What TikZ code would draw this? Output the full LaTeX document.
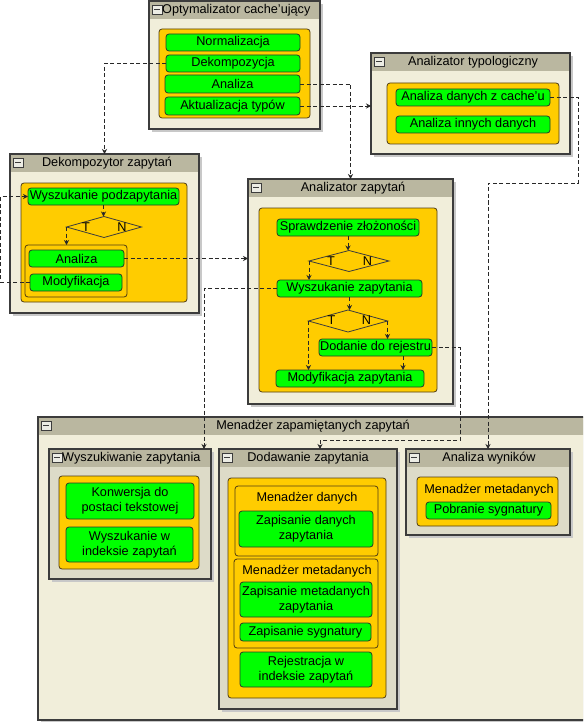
\documentclass[tikz,border=0pt]{standalone}
\usepackage{fontspec}
\setmainfont{Liberation Sans}
\usetikzlibrary{arrows.meta,shapes.geometric}
\definecolor{bodyc}{RGB}{241,238,218}
\definecolor{subc}{RGB}{221,219,200}
\definecolor{hdrc}{RGB}{186,183,160}
\definecolor{orc}{RGB}{255,204,0}
\definecolor{grc}{RGB}{0,255,0}
\definecolor{edgec}{RGB}{60,60,60}
\definecolor{orbd}{RGB}{80,60,20}
\definecolor{grbd}{RGB}{40,60,40}
\definecolor{shc}{RGB}{200,200,200}
\definecolor{iconc}{RGB}{236,236,228}
\definecolor{connc}{RGB}{40,40,40}
\newcommand\umlcont[9]{%
  \fill[shc] (#2+3,#3+3) rectangle ++(#4,#5);
  \fill[#6] (#2,#3) rectangle ++(#4,#5);
  \fill[hdrc] (#2,#3) rectangle ++(#4,18);
  \draw[edgec,line width=1.2pt] (#2,#3) rectangle ++(#4,#5);
  \node[inner sep=0,outer sep=0,minimum width=#4pt,minimum height=#5pt,anchor=north west] (#1) at (#2,#3) {};
  \draw[edgec,fill=iconc,line width=0.7pt] (#2+3,#3+4) rectangle ++(10,9);
  \draw[edgec,line width=1pt] (#2+5,#3+8.5) -- ++(6,0);
  \node[#9,inner sep=0] at (#8,#3+9.5) {#7};
}
\newcommand\gbox[6]{\node[grbox,minimum width=#4pt,minimum height=#5pt] (#1) at (#2,#3) {#6};}
\newcommand\obox[5]{\node[orbox,minimum width=#4pt,minimum height=#5pt] (#1) at (#2,#3) {};}
\begin{document}
\begin{tikzpicture}[x=1pt,y=-1pt,font=\fontsize{12.7}{15}\selectfont,
  orbox/.style={draw=orbd,fill=orc,rounded corners=3pt,line width=0.8pt,inner sep=0,outer sep=0,anchor=north west},
  grbox/.style={draw=grbd,fill=grc,rounded corners=3pt,line width=0.8pt,inner sep=0,outer sep=0,anchor=north west,align=center},
  dia/.style={draw=edgec,diamond,inner sep=0,outer sep=0,line width=0.8pt},
  conn/.style={draw=connc,line width=0.8pt,dash pattern=on 4pt off 2.5pt,-{Stealth[length=5pt,width=5pt]}},
  lbl/.style={inner sep=0}]
\clip (0,0) rectangle (583,722);
\fill[white] (0,0) rectangle (583,722);

% Optymalizator cache'ujacy
\umlcont{opt}{149}{1}{171}{128}{bodyc}{Optymalizator cache'ujący}{162}{anchor=west}
\obox{optin}{159}{29}{151}{89}
\gbox{norm}{166}{34}{134}{17}{Normalizacja}
\gbox{dekc}{166}{55}{134}{17}{Dekompozycja}
\gbox{anal}{165}{75}{135}{18}{Analiza}
\gbox{akt}{165}{97}{135}{18}{Aktualizacja typów}

% Analizator typologiczny
\umlcont{typ}{371}{53}{199}{101}{bodyc}{Analizator typologiczny}{473}{anchor=center}
\obox{typin}{387}{83}{172}{61}
\gbox{adc}{396}{89}{154}{17}{Analiza danych z cache'u}
\gbox{aid}{396}{116}{154}{17}{Analiza innych danych}

% Dekompozytor zapytan
\umlcont{dek}{10}{154}{189}{159}{bodyc}{Dekompozytor zapytań}{107}{anchor=center}
\obox{dekin}{21}{183}{166}{119}
\gbox{wpz}{28}{188}{151}{17}{Wyszukanie podzapytania}
\node[dia,minimum width=75pt,minimum height=21pt] (dd) at (104,227) {};
\node[lbl] at (86,227) {T};
\node[lbl] at (122,227) {N};
\obox{dsub}{25}{245}{102}{52}
\gbox{dan}{29}{250}{95}{17}{Analiza}
\gbox{dmod}{30}{274}{92}{17}{Modyfikacja}

% Analizator zapytan
\umlcont{az}{248}{179}{205}{225}{bodyc}{Analizator zapytań}{353}{anchor=center}
\obox{azin}{259}{208}{178}{184}
\gbox{spr}{277}{219}{142}{17}{Sprawdzenie złożoności}
\node[dia,minimum width=80pt,minimum height=21pt] (d1) at (349,261) {};
\node[lbl] at (331,261) {T};
\node[lbl] at (367.5,261) {N};
\gbox{wz}{277}{280}{145}{17}{Wyszukanie zapytania}
\node[dia,minimum width=79pt,minimum height=22pt] (d2) at (348,321) {};
\node[lbl] at (331.5,320) {T};
\node[lbl] at (366.5,320) {N};
\gbox{dod}{319}{339}{113}{17}{Dodanie do rejestru}
\gbox{mz}{276}{370}{148}{17}{Modyfikacja zapytania}

% Menadzer zapamietanych zapytan
\umlcont{mzz}{38}{417}{550}{303}{bodyc}{Menadżer zapamiętanych zapytań}{313}{anchor=center}

\umlcont{wyz}{49}{449}{162}{130}{subc}{Wyszukiwanie zapytania}{62}{anchor=west}
\obox{wyzin}{59}{476}{140}{93}
\gbox{konw}{66}{483}{128}{36}{Konwersja do\\postaci tekstowej}
\gbox{wwi}{66}{527}{127}{35}{Wyszukanie w\\indeksie zapytań}

\umlcont{dz}{219}{449}{178}{260}{subc}{Dodawanie zapytania}{308}{anchor=center}
\obox{dzin}{228}{478}{158}{220}
\obox{mdan}{235}{486}{143}{70}
\node[lbl] at (307,498.5) {Menadżer danych};
\gbox{zdz}{239}{511}{134}{36}{Zapisanie danych\\zapytania}
\obox{mmet}{234}{559}{144}{89}
\node[lbl] at (307,571) {Menadżer metadanych};
\gbox{zmz}{240}{582}{132}{35}{Zapisanie metadanych\\zapytania}
\gbox{zs}{240}{623}{131}{18}{Zapisanie sygnatury}
\gbox{rej}{240}{652}{132}{35}{Rejestracja w\\indeksie zapytań}

\umlcont{aw}{406}{449}{164}{86}{subc}{Analiza wyników}{489}{anchor=center}
\obox{awin}{417}{477}{141}{49}
\node[lbl] at (489,490) {Menadżer metadanych};
\gbox{ps}{426}{502}{125}{17}{Pobranie sygnatury}

% connectors
\draw[conn] (dekc.west) -| (dek.north);
\draw[conn] (anal.east) -| (az.north);
\draw[conn] (akt.east) -- (akt.east -| typ.west);
\draw[conn] (adc.east) -| (578,183) -| (aw.north);
\draw[conn] (dmod.west) -- (0.8,282.5) |- (wpz.west);
\draw[conn] (dan.east) -- (dan.east -| az.west);
\draw[conn] (wz.west) -| ([xshift=-7pt]wyz.north east);
\draw[conn] (dod.east) -- (460,347.5) -- (460,440) -| ([xshift=12pt]dz.north);

\draw[conn] (wpz.south) -- (wpz.south |- dd.north);
\draw[conn] (dd.west) -- (dd.west |- dsub.north);
\draw[conn] (spr.south) -- (spr.south |- d1.north);
\draw[conn] (d1.west) -- (d1.west |- wz.north);
\draw[conn] (wz.south) -- (wz.south |- d2.north);
\draw[conn] (d2.west) -- (d2.west |- mz.north);
\draw[conn] (d2.east) -- (d2.east |- dod.north);
\draw[conn] ([xshift=27.5pt]dod.south) -- ([xshift=27.5pt]dod.south |- mz.north);
\end{tikzpicture}
\end{document}
